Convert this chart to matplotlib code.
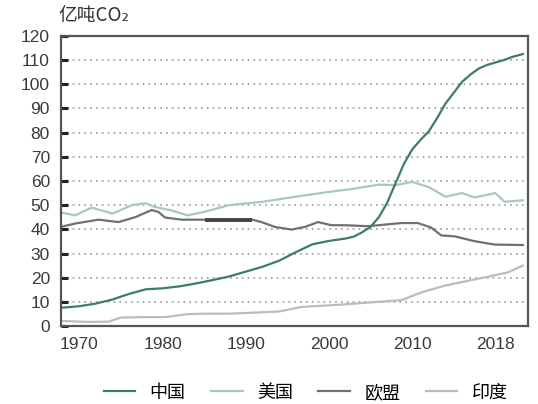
import numpy as np
import matplotlib.pyplot as plt

plt.rcParams['font.family'] = ['Liberation Sans', 'Noto Sans CJK SC', 'DejaVu Sans']

# 读图得到的数据（亿吨CO2），横轴按刻度位置换算成年份
cn_year = [1968, 1970, 1972, 1974, 1976, 1978, 1980, 1982, 1984, 1986, 1988, 1990,
           1992, 1994, 1996, 1998, 2000, 2002, 2003, 2004, 2005, 2006, 2007, 2008,
           2009, 2010, 2011, 2012, 2013, 2014, 2015, 2016, 2017, 2018, 2019, 2020,
           2021, 2022, 2023.3]
cn_val = [7.6, 8.2, 9.3, 11, 13.3, 15.2, 15.6, 16.4, 17.6, 19, 20.5, 22.5,
          24.5, 27, 30.5, 33.8, 35.2, 36.2, 37, 38.8, 41, 45, 51, 59,
          67, 73, 77, 80.5, 86, 92, 96.5, 101, 104, 106.5, 108, 109,
          110, 111.3, 112.5]

us_year = [1968, 1969.5, 1971.5, 1974, 1976.3, 1978, 1979, 1981, 1983, 1985, 1988,
           1992, 1996, 2000, 2003, 2006, 2008, 2010, 2012, 2014, 2016, 2017.5,
           2020, 2021.1, 2023.3]
us_val = [46.8, 45.8, 49, 46.5, 50, 50.8, 49.3, 47.9, 45.8, 47.2, 50,
          51.4, 53.5, 55.5, 56.8, 58.5, 58.3, 59.6, 57.5, 53.5, 55, 53.2,
          55, 51.4, 52]

eu_year = [1968, 1969.5, 1972.3, 1974.7, 1976.7, 1978.7, 1979.5, 1980.3, 1982.3,
           1985.1, 1988, 1990.8, 1991.9, 1993.5, 1995.5, 1997.1, 1998.7, 2000.3,
           2001.9, 2004.7, 2008.7, 2010.7, 2012.3, 2013.5, 2015.1, 2017.5,
           2019.9, 2023.3]
eu_val = [41.2, 42.4, 44, 43, 45, 48, 47.2, 44.9, 44,
          44, 44, 44, 43, 41, 39.9, 41, 43, 41.7,
          41.7, 41.3, 42.6, 42.6, 40.7, 37.5, 37.1, 35.1,
          33.7, 33.5]

in_year = [1968, 1971, 1973.5, 1975, 1977.5, 1980.3, 1983, 1985, 1988, 1994,
           1996.7, 2000.7, 2002, 2004.7, 2008.7, 2011.1, 2013.9, 2016.7, 2019.1,
           2021.5, 2023.3]
in_val = [2.1, 1.7, 1.8, 3.5, 3.7, 3.7, 4.9, 5.1, 5.1, 6,
          7.9, 8.7, 9, 9.7, 10.7, 13.9, 16.7, 18.7, 20.4,
          22.2, 25]

xtick_pos = [1970, 1980, 1990, 2000, 2010, 2020]
xtick_lab = ['1970', '1980', '1990', '2000', '2010', '2018']

fig = plt.figure(figsize=(5.38, 4.04), dpi=100)
ax = fig.add_axes([0.1134, 0.193, 0.8676, 0.718])

ax.plot(in_year, in_val, color='#bcbcbc', lw=1.6, label='印度')
ax.plot(eu_year, eu_val, color='#707070', lw=1.6, label='欧盟')
ax.plot(us_year, us_val, color='#a9c8ba', lw=1.6, label='美国')
ax.plot(cn_year, cn_val, color='#3f7c66', lw=1.6, label='中国')

# 欧盟线中间那段加粗的部分
eu_y = np.array(eu_year)
seg = (eu_y >= 1985.1) & (eu_y <= 1990.8)
ax.plot(eu_y[seg], np.array(eu_val)[seg], color='#444444', lw=2.8, solid_capstyle='butt')

ax.set_xlim(1967.8, 2023.9)
ax.set_ylim(0, 120)
ax.set_yticks(range(0, 121, 10))
ax.set_xticks(xtick_pos)
ax.set_xticklabels(xtick_lab)

for v in range(10, 120, 10):
    ax.axhline(v, color='#999999', lw=1.2, ls=(0, (1, 2.5)), zorder=0)

ax.tick_params(axis='y', direction='in', length=5, width=2.2, color='#222222',
               labelsize=12.5, labelcolor='#3a3a3a', pad=8)
ax.tick_params(axis='x', length=0, labelsize=12.5, labelcolor='#3a3a3a', pad=8)

for s in ax.spines.values():
    s.set_color('#555555')
    s.set_linewidth(1.6)

fig.text(0.108, 0.962, '亿吨CO₂', fontsize=13.5, color='#333333', va='center',
         family=['Noto Sans CJK SC', 'DejaVu Sans'])

h, l = ax.get_legend_handles_labels()
order = [3, 2, 1, 0]
fig.legend([h[i] for i in order], [l[i] for i in order], loc='center',
           bbox_to_anchor=(0.568, 0.028), ncol=4, frameon=False,
           handlelength=1.75, columnspacing=1.4, handletextpad=0.8,
           prop={'family': ['Noto Sans CJK SC', 'DejaVu Sans'], 'size': 13})

fig.savefig('out.png', dpi=100, facecolor='white')
